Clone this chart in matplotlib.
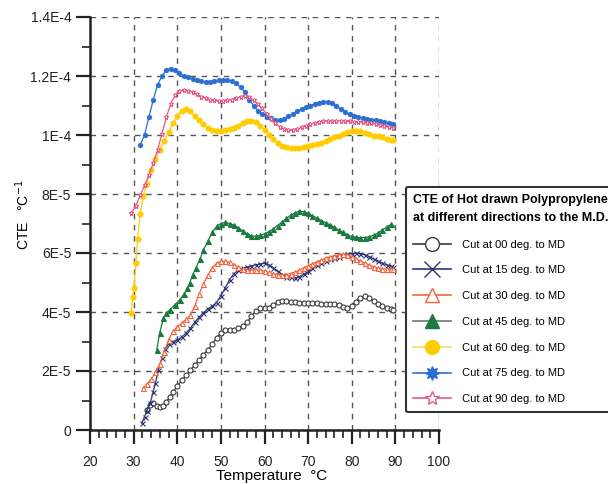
import numpy as np
import matplotlib
matplotlib.use("Agg")
import matplotlib.pyplot as plt
from matplotlib.lines import Line2D
from matplotlib.ticker import MultipleLocator, FixedLocator, FixedFormatter

plt.rcParams['font.family'] = ['Liberation Sans', 'DejaVu Sans']

# values are read in units of 1E-5 per degree C
SCALE = 1e-5

t_00 = [33.0, 33.7, 34.5, 35.3, 36.0, 36.7, 37.5, 38.3, 39, 40, 41, 42, 43, 44, 45, 46, 47, 48, 49, 50,
        51, 52, 53, 54, 55, 56, 57, 58, 59, 60, 61, 62, 63, 64, 65, 66, 67, 68, 69, 70,
        71, 72, 73, 74, 75, 76, 77, 78, 79, 80, 81, 82, 83, 84, 85, 86, 87, 88, 89, 89.5]
cte_00 = [0.68, 0.85, 0.91, 0.82, 0.78, 0.80, 0.95, 1.13, 1.28, 1.48, 1.68, 1.85, 2.02, 2.20, 2.38, 2.55, 2.72, 2.90, 3.12, 3.30,
          3.38, 3.40, 3.40, 3.45, 3.52, 3.65, 3.85, 4.05, 4.12, 4.12, 4.15, 4.25, 4.33, 4.36, 4.36, 4.35, 4.33, 4.32, 4.32, 4.32,
          4.30, 4.29, 4.28, 4.28, 4.27, 4.26, 4.23, 4.18, 4.15, 4.20, 4.35, 4.48, 4.53, 4.48, 4.38, 4.28, 4.20, 4.14, 4.10, 4.08]

t_15 = [31.9, 32.5, 33.0, 33.8, 34.5, 35.0, 35.7, 36.5, 37.2, 38, 39, 40, 41, 42, 43, 44, 45, 46, 47, 48,
        49, 50, 51, 52, 53, 54, 55, 56, 57, 58, 59, 60, 61, 62, 63, 64, 65, 66, 67, 68,
        69, 70, 71, 72, 73, 74, 75, 76, 77, 78, 79, 80, 81, 82, 83, 84, 85, 86, 87, 88, 89, 89.5]
cte_15 = [0.23, 0.45, 0.65, 0.91, 1.30, 1.60, 2.04, 2.45, 2.75, 2.92, 3.00, 3.05, 3.15, 3.28, 3.45, 3.65, 3.82, 3.98, 4.10, 4.20,
          4.32, 4.55, 4.82, 5.10, 5.30, 5.42, 5.48, 5.52, 5.56, 5.60, 5.63, 5.65, 5.60, 5.50, 5.38, 5.27, 5.20, 5.17, 5.16, 5.20,
          5.28, 5.38, 5.48, 5.58, 5.66, 5.73, 5.78, 5.83, 5.88, 5.93, 5.96, 5.98, 6.00, 5.98, 5.94, 5.88, 5.80, 5.73, 5.66, 5.60, 5.55, 5.52]

t_30 = [32.2, 33, 34, 35, 36, 37, 38, 39, 40, 41, 42, 43, 44, 45, 46, 47, 48, 49, 50, 51,
        52, 53, 54, 55, 56, 57, 58, 59, 60, 61, 62, 63, 64, 65, 66, 67, 68, 69, 70, 71,
        72, 73, 74, 75, 76, 77, 78, 79, 80, 81, 82, 83, 84, 85, 86, 87, 88, 89, 89.5]
cte_30 = [1.43, 1.55, 1.72, 1.95, 2.25, 2.65, 3.05, 3.35, 3.50, 3.62, 3.75, 3.90, 4.20, 4.60, 4.95, 5.25, 5.50, 5.65, 5.72, 5.72,
          5.68, 5.60, 5.52, 5.45, 5.42, 5.42, 5.43, 5.42, 5.38, 5.34, 5.30, 5.27, 5.26, 5.27, 5.30, 5.35, 5.42, 5.50, 5.57, 5.64,
          5.70, 5.76, 5.82, 5.87, 5.91, 5.94, 5.95, 5.93, 5.88, 5.81, 5.73, 5.66, 5.59, 5.53, 5.49, 5.47, 5.46, 5.45, 5.45]

t_45 = [35.3, 36.0, 36.8, 37.5, 38.3, 39.5, 40.6, 41.5, 42.3, 42.9, 43.5, 44.3, 45.2, 46, 47, 48, 49, 50, 51, 52,
        53, 54, 55, 56, 57, 58, 59, 60, 61, 62, 63, 64, 65, 66, 67, 68, 69, 70, 71, 72,
        73, 74, 75, 76, 77, 78, 79, 80, 81, 82, 83, 84, 85, 86, 87, 88, 89]
cte_45 = [2.72, 3.30, 3.78, 3.95, 4.08, 4.25, 4.42, 4.60, 4.80, 5.00, 5.25, 5.50, 5.80, 6.10, 6.40, 6.70, 6.90, 7.00, 7.04, 7.00,
          6.94, 6.85, 6.75, 6.65, 6.58, 6.57, 6.60, 6.65, 6.72, 6.82, 6.93, 7.05, 7.17, 7.28, 7.36, 7.42, 7.40, 7.34, 7.26, 7.18,
          7.10, 7.03, 6.95, 6.87, 6.78, 6.70, 6.62, 6.56, 6.53, 6.52, 6.52, 6.55, 6.60, 6.68, 6.78, 6.88, 6.97]

t_60 = [29.4, 29.8, 30.1, 30.5, 30.9, 31.5, 32.2, 33, 34, 35, 36, 37, 38, 39, 40, 41, 42, 43, 44, 45,
        46, 47, 48, 49, 50, 51, 52, 53, 54, 55, 56, 57, 58, 59, 60, 61, 62, 63, 64, 65,
        66, 67, 68, 69, 70, 71, 72, 73, 74, 75, 76, 77, 78, 79, 80, 81, 82, 83, 84, 85,
        86, 87, 88, 89, 89.5]
cte_60 = [3.95, 4.50, 4.80, 5.65, 6.46, 7.31, 7.93, 8.35, 8.80, 9.20, 9.50, 9.80, 10.10, 10.40, 10.65, 10.82, 10.88, 10.80, 10.65, 10.52,
          10.38, 10.25, 10.18, 10.15, 10.15, 10.17, 10.20, 10.25, 10.32, 10.40, 10.46, 10.49, 10.45, 10.32, 10.18, 10.00, 9.85, 9.72, 9.64, 9.60,
          9.57, 9.56, 9.57, 9.60, 9.63, 9.66, 9.70, 9.74, 9.80, 9.86, 9.92, 9.98, 10.05, 10.10, 10.14, 10.15, 10.13, 10.08, 10.02, 9.98,
          9.95, 9.92, 9.88, 9.84, 9.82]

t_75 = [31.5, 32.5, 33.5, 34.5, 35.5, 36.5, 37.5, 38.5, 39.5, 40.5, 41.5, 42.5, 43.5, 44.5, 45.5, 46.5, 47.5, 48.5, 49.5, 50.5,
        51.5, 52.5, 53.5, 54.5, 55.5, 56.5, 57.5, 58.5, 59.5, 60.5, 61.5, 62.5, 63.5, 64.5, 65.5, 66.5, 67.5, 68.5, 69.5, 70.5,
        71.5, 72.5, 73.5, 74.5, 75.5, 76.5, 77.5, 78.5, 79.5, 80.5, 81.5, 82.5, 83.5, 84.5, 85.5, 86.5, 87.5, 88.5, 89.5]
cte_75 = [9.66, 10.00, 10.60, 11.20, 11.70, 12.00, 12.20, 12.25, 12.20, 12.10, 12.00, 11.95, 11.90, 11.85, 11.82, 11.80, 11.80, 11.82, 11.85, 11.85,
          11.85, 11.82, 11.75, 11.62, 11.45, 11.20, 11.00, 10.82, 10.70, 10.62, 10.56, 10.52, 10.50, 10.55, 10.65, 10.72, 10.80, 10.88, 10.95, 11.00,
          11.05, 11.10, 11.12, 11.12, 11.08, 10.98, 10.88, 10.78, 10.70, 10.65, 10.60, 10.58, 10.55, 10.52, 10.50, 10.47, 10.44, 10.40, 10.36]

t_90 = [29.5, 30.5, 31.5, 32.5, 33.5, 34.5, 35.5, 36.5, 37.5, 38.5, 39.5, 40.5, 41.5, 42.5, 43.5, 44.5, 45.5, 46.5, 47.5, 48.5,
        49.5, 50.5, 51.5, 52.5, 53.5, 54.5, 55.5, 56.5, 57.5, 58.5, 59.5, 60.5, 61.5, 62.5, 63.5, 64.5, 65.5, 66.5, 67.5, 68.5,
        69.5, 70.5, 71.5, 72.5, 73.5, 74.5, 75.5, 76.5, 77.5, 78.5, 79.5, 80.5, 81.5, 82.5, 83.5, 84.5, 85.5, 86.5, 87.5, 88.5, 89.5]
cte_90 = [7.35, 7.60, 7.95, 8.30, 8.65, 9.05, 9.50, 10.05, 10.60, 11.05, 11.35, 11.48, 11.52, 11.50, 11.45, 11.38, 11.30, 11.24, 11.20, 11.17,
          11.15, 11.15, 11.17, 11.20, 11.25, 11.30, 11.32, 11.28, 11.18, 11.05, 10.90, 10.72, 10.55, 10.40, 10.28, 10.20, 10.16, 10.16, 10.20, 10.26,
          10.32, 10.37, 10.41, 10.44, 10.46, 10.48, 10.49, 10.49, 10.48, 10.47, 10.46, 10.45, 10.44, 10.43, 10.41, 10.39, 10.37, 10.34, 10.30, 10.27, 10.24]

labels = ['Cut at 00 deg. to MD', 'Cut at 15 deg. to MD', 'Cut at 30 deg. to MD', 'Cut at 45 deg. to MD',
          'Cut at 60 deg. to MD', 'Cut at 75 deg. to MD', 'Cut at 90 deg. to MD']
ytick_vals = [0, 2, 4, 6, 8, 10, 12, 14]
ytick_labels = ['0', '2E-5', '4E-5', '6E-5', '8E-5', '1E-4', '1.2E-4', '1.4E-4']

# style per series: color, marker, filled?
styles = [
    ('#3a3a3a', 'o', False),
    ('#2b3575', 'x', True),
    ('#f2643c', '^', False),
    ('#1b7a3e', '^', True),
    ('#ffcc00', 'o', True),
    ('#2a6fd0', (8, 1, 0), True),
    ('#e85a86', '*', False),
]
series = [(t_00, cte_00), (t_15, cte_15), (t_30, cte_30), (t_45, cte_45),
          (t_60, cte_60), (t_75, cte_75), (t_90, cte_90)]

fig = plt.figure(figsize=(6.08, 4.84), dpi=100)
ax = fig.add_axes([90 / 608, 54 / 484, 349 / 608, 413 / 484])

handles = []
for (t, v), (col, mk, filled), lab in zip(series, styles, labels):
    fc = col if filled else 'white'
    ax.plot(t, np.array(v) * SCALE, color=col, lw=0.9, marker=mk, ms=3.6,
            mfc=fc, mec=col, mew=0.8, zorder=3)
    lc = col
    if lab.startswith('Cut at 45'):
        lc = '#6b7a70'
    if lab.startswith('Cut at 60'):
        lc = '#ffd966'
    handles.append(Line2D([], [], color=lc, lw=1.2, marker=mk, ms=10 if mk != 'x' else 12,
                          mfc=fc, mec=col, mew=1.0, label=lab))

ax.set_xlim(20, 100)
ax.set_ylim(0, 14 * SCALE)
ax.xaxis.set_major_locator(MultipleLocator(10))
ax.xaxis.set_minor_locator(MultipleLocator(2))
ax.yaxis.set_major_locator(FixedLocator([v * SCALE for v in ytick_vals]))
ax.yaxis.set_major_formatter(FixedFormatter(ytick_labels))
ax.yaxis.set_minor_locator(MultipleLocator(1 * SCALE))

ax.spines['top'].set_visible(False)
ax.spines['right'].set_visible(False)
for s in ('left', 'bottom'):
    ax.spines[s].set_linewidth(1.8)
    ax.spines[s].set_color('#222222')
ax.tick_params(which='major', direction='out', length=10, width=1.6, labelsize=10, colors='#222222')
ax.tick_params(which='minor', direction='out', length=6, width=1.2, colors='#222222')
ax.tick_params(axis='x', which='major', pad=8)

ax.grid(True, which='major', color='#555555', linestyle=(0, (4, 4)), linewidth=1.0, zorder=0)
ax.set_axisbelow(True)

ax.set_xlabel('Temperature  \u00b0C', fontsize=11)
ax.xaxis.set_label_coords(0.52, -0.095)
ax.set_ylabel('CTE   \u00b0C$^{-1}$', fontsize=10)
ax.yaxis.set_label_coords(-0.165, 0.52)

leg = ax.legend(handles=handles, loc='upper left', bbox_to_anchor=(400 / 608, 1 - 181 / 484),
                bbox_transform=fig.transFigure, fontsize=8,
                title='CTE of Hot drawn Polypropylene\nat different directions to the M.D.',
                title_fontproperties={'weight': 'bold', 'size': 9}, alignment='left',
                handlelength=3.4, handletextpad=1.0, labelspacing=1.42, borderpad=0.7,
                fancybox=True, framealpha=1, edgecolor='#333333')
leg.get_title().set_linespacing(1.6)
leg.get_frame().set_linewidth(1.5)
leg.set_zorder(5)

fig.savefig('out.png', dpi=100)
